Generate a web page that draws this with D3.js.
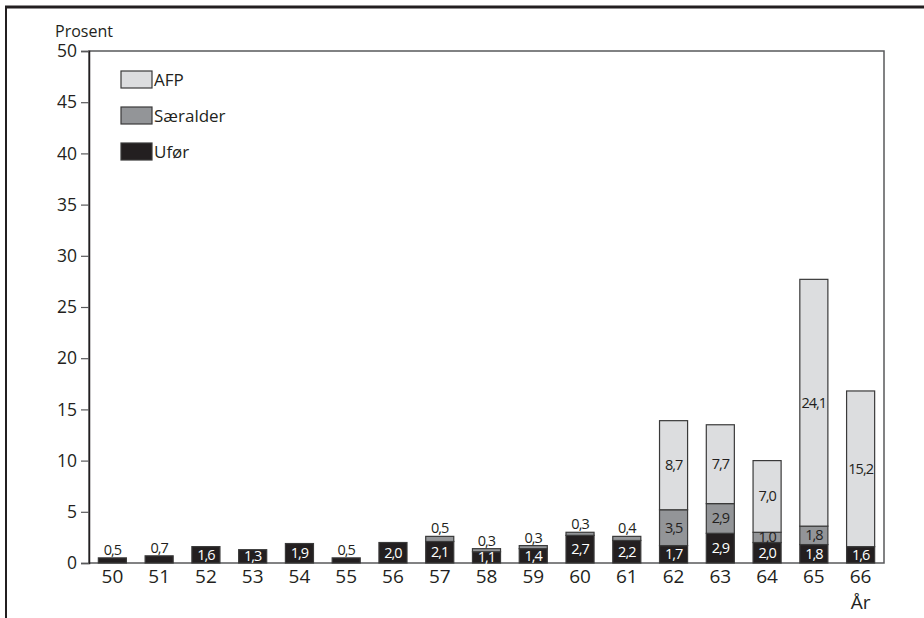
<!DOCTYPE html>
<html><head><meta charset="utf-8">
<script src="https://cdn.jsdelivr.net/npm/d3@7"></script>
<style>body{margin:0;background:#fff}svg{display:block}</style>
</head><body>
<svg id="c" width="924" height="618"></svg>
<script>
const ages = ["50","51","52","53","54","55","56","57","58","59","60","61","62","63","64","65","66"];
const ufor = [0.5,0.7,1.6,1.3,1.9,0.5,2.0,2.1,1.1,1.4,2.7,2.2,1.7,2.9,2.0,1.8,1.6];
const saeralder = [0,0,0,0,0,0,0,0.5,0.3,0.3,0.3,0.4,3.5,2.9,1.0,1.8,0];
const afp = [0,0,0,0,0,0,0,0,0,0,0,0,8.7,7.7,7.0,24.1,15.2];
const yTicks = [0,5,10,15,20,25,30,35,40,45,50];
const seriesNames = ["AFP","Særalder","Ufør"];
const colors = {"Ufør":"#231f20","Særalder":"#939598","AFP":"#dcdddf"};

const svg = d3.select("#c");
const L=89, R=884, T=51, B=563;
const x = d3.scaleBand().domain(ages).range([L,R]).paddingInner(0.4).paddingOuter(0.2);
const y = d3.scaleLinear().domain([0,50]).range([B,T]);
const fmt = v => d3.format(".1f")(v).replace(".",",");
const FONT = "Open Sans, sans-serif";

// outer frame
svg.append("line").attr("x1",5).attr("x2",930).attr("y1",7).attr("y2",7).attr("stroke","#231f20").attr("stroke-width",3);
svg.append("line").attr("x1",6).attr("x2",6).attr("y1",6).attr("y2",620).attr("stroke","#231f20").attr("stroke-width",2);

// plot box
svg.append("rect").attr("x",L).attr("y",T).attr("width",R-L).attr("height",B-T)
  .attr("fill","none").attr("stroke","#58595b").attr("stroke-width",1.5);

// y axis
const yAxis = svg.append("g").attr("transform",`translate(${L},0)`)
  .call(d3.axisLeft(y).tickValues(yTicks).tickSize(8).tickPadding(4));
yAxis.select(".domain").attr("stroke","#231f20").attr("stroke-width",1.5);
yAxis.selectAll(".tick line").attr("stroke","#58595b").attr("stroke-width",1.2);
yAxis.selectAll("text").attr("font-family",FONT).attr("font-size",17.5).attr("fill","#231f20");

// x axis
const xAxis = svg.append("g").attr("transform",`translate(0,${B})`)
  .call(d3.axisBottom(x).tickSize(0).tickPadding(7));
xAxis.select(".domain").remove();
xAxis.selectAll("text").attr("font-family",FONT).attr("font-size",19).attr("fill","#231f20");

svg.append("text").attr("x",x("66")+x.bandwidth()/2).attr("y",609).attr("text-anchor","middle")
  .attr("font-family",FONT).attr("font-size",19).attr("fill","#231f20").text("År");
svg.append("text").attr("x",55).attr("y",37)
  .attr("font-family",FONT).attr("font-size",16).attr("fill","#231f20").text("Prosent");

// bars
const data = ages.map((a,i)=>({age:a, "Ufør":ufor[i], "Særalder":saeralder[i], "AFP":afp[i]}));
const stack = d3.stack().keys(["Ufør","Særalder","AFP"])(data);
const g = svg.append("g");
stack.forEach(layer=>{
  const key = layer.key;
  layer.forEach(d=>{
    const v = d[1]-d[0];
    if(v<=0) return;
    g.append("rect").attr("x",x(d.data.age)).attr("width",x.bandwidth())
      .attr("y",y(d[1])).attr("height",y(d[0])-y(d[1]))
      .attr("fill",colors[key]).attr("stroke","#3a3a3a").attr("stroke-width",1.2);
  });
});
// labels
const lab = svg.append("g").attr("font-family",FONT).attr("font-size",14.5)
  .attr("letter-spacing",-1).attr("text-anchor","middle");
stack.forEach(layer=>{
  const key = layer.key;
  layer.forEach(d=>{
    const v = d[1]-d[0];
    if(v<=0) return;
    const cx = x(d.data.age)+x.bandwidth()/2;
    const h = y(d[0])-y(d[1]);
    if(h<9){
      lab.append("text").attr("x",cx).attr("y",y(d[1])-3).attr("fill","#231f20").text(fmt(v));
    } else {
      const cy = (y(d[0])+y(d[1]))/2;
      lab.append("text").attr("x",cx).attr("y",cy).attr("dy","0.34em")
        .attr("fill", key==="Ufør" ? "#ffffff" : "#231f20").text(fmt(v));
    }
  });
});

// legend
const lg = svg.append("g");
seriesNames.forEach((n,i)=>{
  const yy = 71 + i*36;
  lg.append("rect").attr("x",121).attr("y",yy).attr("width",31).attr("height",17)
    .attr("fill",colors[n]).attr("stroke","#3a3a3a").attr("stroke-width",1.2);
  lg.append("text").attr("x",154).attr("y",yy+9).attr("dy","0.36em")
    .attr("font-family",FONT).attr("font-size",17).attr("fill","#231f20").text(n);
});
</script>
</body></html>
